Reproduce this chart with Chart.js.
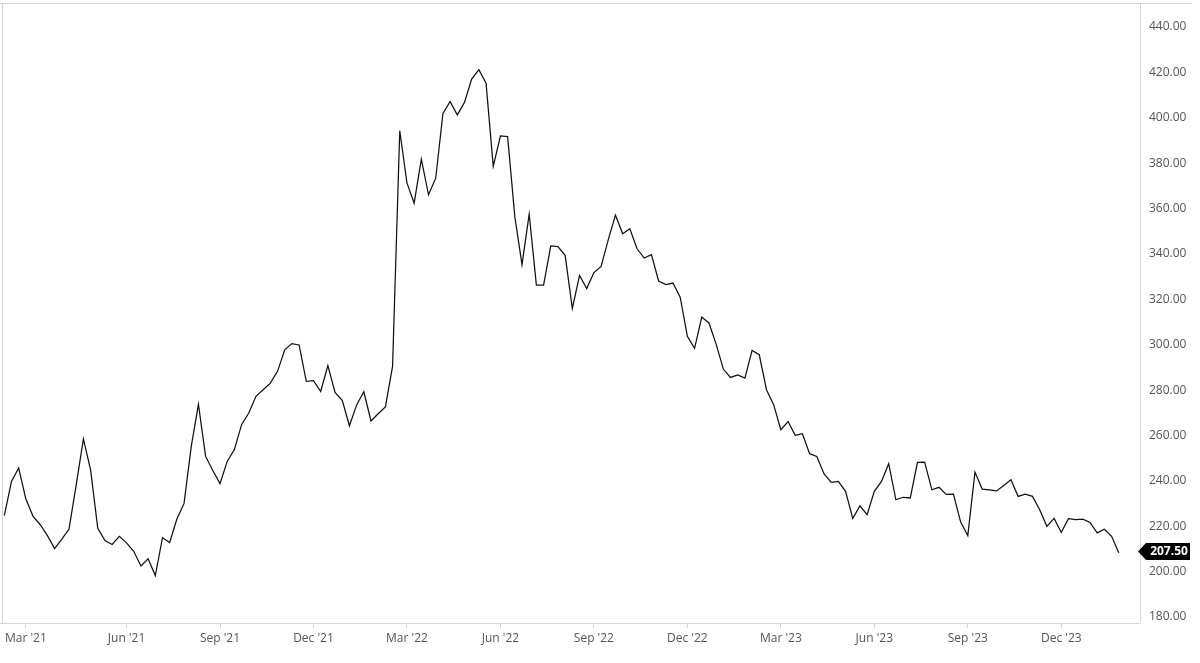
<!DOCTYPE html>
<html>
<head>
<meta charset="utf-8">
<script src="https://cdn.jsdelivr.net/npm/chart.js@4.4.1/dist/chart.umd.min.js"></script>
<style>
  html, body { margin: 0; padding: 0; background: #ffffff; }
  #wrap { width: 1200px; height: 663px; position: relative; }
</style>
</head>
<body>
<div id="wrap"><canvas id="c" width="1200" height="663"></canvas></div>
<script>
// ---- data (weekly closes) ----
const firstWeek = '2021-02-08';
const prices = [
  223.8, 238.9, 244.8, 231.1, 223.5, 219.8, 215.0, 209.3, 213.5, 217.9,
  237.4, 257.6, 244.0, 218.2, 212.8, 211.1, 214.7, 211.8, 208.1, 201.6,
  204.8, 197.4, 214.1, 212.0, 222.3, 229.2, 254.3, 272.8, 249.9, 243.7,
  237.9, 247.7, 252.9, 263.9, 269.0, 276.4, 279.3, 282.2, 287.4, 296.9,
  299.6, 299.0, 283.0, 283.3, 278.5, 289.9, 278.1, 274.6, 263.4, 272.6,
  278.4, 265.5, 268.7, 271.7, 289.6, 393.4, 370.4, 361.5, 380.9, 365.2,
  372.5, 400.9, 406.3, 400.4, 405.9, 416.2, 420.3, 414.4, 377.7, 391.1,
  390.8, 355.6, 334.4, 356.7, 325.4, 325.4, 342.7, 342.4, 338.5, 315.1,
  329.6, 323.9, 330.9, 333.6, 345.4, 356.2, 348.0, 350.2, 341.4, 337.3,
  338.8, 327.2, 325.6, 326.3, 320.1, 302.8, 297.5, 311.3, 308.7, 299.4,
  288.4, 284.7, 285.8, 284.4, 296.6, 294.7, 279.3, 272.7, 261.7, 265.3,
  259.2, 259.9, 251.1, 249.9, 242.3, 238.5, 238.9, 234.5, 222.6, 228.1,
  224.2, 234.5, 238.9, 246.7, 230.8, 231.9, 231.6, 247.3, 247.4, 235.2,
  236.3, 233.2, 233.3, 221.1, 215.0, 243.0, 235.5, 235.2, 234.7, 237.1,
  239.6, 232.3, 233.3, 232.3, 226.4, 219.1, 222.6, 216.4, 222.5, 222.0,
  222.3, 220.8, 216.2, 217.8, 214.7, 207.5
];
const monthNames = ['Jan','Feb','Mar','Apr','May','Jun','Jul','Aug','Sep','Oct','Nov','Dec'];
const tickMonths = [2, 5, 8, 11];           // Mar, Jun, Sep, Dec
const yTickValues = [180, 200, 220, 240, 260, 280, 300, 320, 340, 360, 380, 400, 420, 440];

// weekly category dates (one per price)
const weeks = [];
(function () {
  const d0 = new Date(firstWeek + 'T00:00:00Z');
  for (let i = 0; i < prices.length; i++) {
    weeks.push(new Date(d0.getTime() + i * 7 * 86400000));
  }
})();

// x ticks: first week of each quarter month
const xTickIdx = [];
weeks.forEach((d, i) => {
  if (tickMonths.includes(d.getUTCMonth()) && d.getUTCDate() <= 7) xTickIdx.push(i);
});
function weekLabel(i) {
  const d = weeks[i];
  return monthNames[d.getUTCMonth()] + " '" + String(d.getUTCFullYear()).slice(2);
}

const points = prices.map((v, i) => ({ x: i, y: v }));
const FONT = "'Open Sans', 'Noto Sans', sans-serif";
const LINE_GRAY = '#d6d6d6';

const framePlugin = {
  id: 'frame',
  afterDraw(chart) {
    const { ctx, chartArea: a } = chart;
    ctx.save();
    ctx.strokeStyle = LINE_GRAY;
    ctx.lineWidth = 1;
    ctx.beginPath();
    ctx.moveTo(0, Math.round(a.top) + 0.5);
    ctx.lineTo(1192, Math.round(a.top) + 0.5);
    ctx.moveTo(Math.round(a.left) + 0.5, a.top);
    ctx.lineTo(Math.round(a.left) + 0.5, a.bottom);
    ctx.moveTo(Math.round(a.right) + 0.5, a.top);
    ctx.lineTo(Math.round(a.right) + 0.5, a.bottom);
    ctx.moveTo(0, Math.round(a.bottom) + 0.5);
    ctx.lineTo(a.right, Math.round(a.bottom) + 0.5);
    ctx.stroke();
    ctx.restore();
  }
};

const tagPlugin = {
  id: 'lastTag',
  afterDraw(chart) {
    const { ctx, chartArea: a } = chart;
    const ys = chart.scales.y;
    const last = prices[prices.length - 1];
    const y = Math.round(ys.getPixelForValue(last)) - 1.5;
    const tip = a.right - 2, bodyL = tip + 8, bodyR = 1190, h = 17;
    ctx.save();
    ctx.fillStyle = '#000000';
    ctx.beginPath();
    ctx.moveTo(tip, y);
    ctx.lineTo(bodyL, y - h / 2);
    ctx.lineTo(bodyR, y - h / 2);
    ctx.lineTo(bodyR, y + h / 2);
    ctx.lineTo(bodyL, y + h / 2);
    ctx.closePath();
    ctx.fill();
    ctx.fillStyle = '#ffffff';
    ctx.font = "bold 12px " + FONT;
    ctx.textAlign = 'center';
    ctx.textBaseline = 'middle';
    ctx.fillText(last.toFixed(2), (bodyL + bodyR) / 2 + 1, y + 0.5);
    ctx.restore();
  }
};

new Chart(document.getElementById('c'), {
  type: 'line',
  data: {
    datasets: [{
      data: points,
      borderColor: '#111111',
      borderWidth: 1.25,
      pointRadius: 0,
      pointHoverRadius: 0,
      tension: 0,
      fill: false
    }]
  },
  options: {
    responsive: false,
    animation: false,
    events: [],
    layout: { padding: { left: 2, top: 3, right: 0, bottom: 0 } },
    plugins: { legend: { display: false }, tooltip: { enabled: false } },
    scales: {
      x: {
        type: 'linear',
        min: -0.32,
        max: 157.95,
        afterBuildTicks(scale) { scale.ticks = xTickIdx.map(v => ({ value: v })); },
        afterFit(scale) { scale.height = 40; scale.paddingLeft = 0; scale.paddingRight = 0; },
        grid: { display: true, drawOnChartArea: false, drawTicks: true, tickLength: 5, color: LINE_GRAY },
        border: { display: false },
        ticks: {
          autoSkip: false, maxRotation: 0, minRotation: 0, padding: 3,
          color: '#555555', font: { family: FONT, size: 12 },
          callback: (v) => weekLabel(v)
        }
      },
      y: {
        type: 'linear',
        position: 'right',
        min: 176.5,
        max: 449.7,
        afterBuildTicks(scale) { scale.ticks = yTickValues.map(v => ({ value: v })); },
        afterFit(scale) { scale.width = 60; scale.paddingTop = 0; scale.paddingBottom = 0; },
        grid: { display: false, drawTicks: false },
        border: { display: false },
        ticks: {
          padding: 9, labelOffset: 2, color: '#555555', font: { family: FONT, size: 12 },
          callback: (v) => Number(v).toFixed(2)
        }
      }
    }
  },
  plugins: [framePlugin, tagPlugin]
});
</script>
</body>
</html>
